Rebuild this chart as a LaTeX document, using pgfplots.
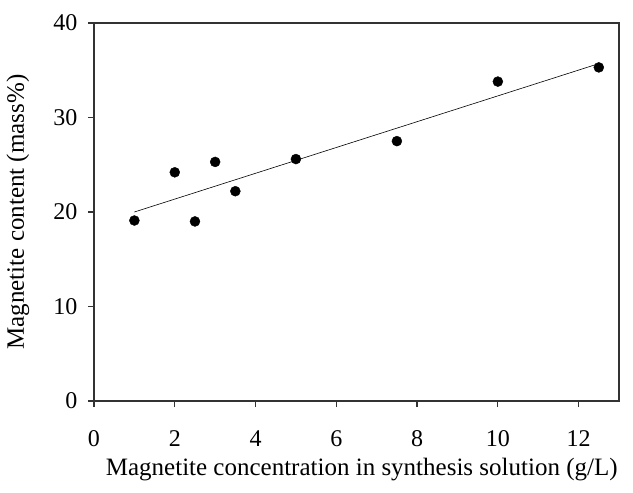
\documentclass[border=0pt]{standalone}
\usepackage{fontspec}
\setmainfont{Liberation Serif}
\usepackage{pgfplots}
\pgfplotsset{compat=1.18}
\begin{document}
\begin{tikzpicture}
\begin{axis}[
  name=ax,
  scale only axis,
  width=525pt, height=378pt,
  xmin=0, xmax=13, ymin=0, ymax=40,
  xtick={0,2,4,6,8,10,12},
  ytick={0,10,20,30,40},
  tick align=outside,
  tick pos=left,
  major tick length=6pt,
  axis line style={line width=1.2pt, black!80},
  every tick/.style={line width=1.2pt, black!80},
  /pgf/number format/assume math mode=true,
  tick label style={font=\fontsize{24}{27}\selectfont},
  xticklabel style={yshift=-20pt},
  yticklabel style={xshift=-7pt},
  label style={font=\fontsize{25}{29}\selectfont},
  xlabel={Magnetite concentration in synthesis solution (g/L)},
  ylabel={Magnetite content (mass\%)},
  xlabel style={at={(axis description cs:0.51,0)}, anchor=center, yshift=-69pt},
  ylabel style={at={(axis description cs:0,0.5)}, anchor=center, yshift=76pt},
]
\addplot[only marks, mark=*, mark size=5pt, black] coordinates {
  (1,19.1) (2,24.2) (2.5,19.0) (3,25.3) (3.5,22.2) (5,25.6) (7.5,27.5) (10,33.8) (12.5,35.3)
};
\addplot[black, line width=0.6pt] coordinates {(1,20.0) (12.5,35.7)};
\end{axis}
\pgfresetboundingbox
\useasboundingbox ([xshift=-94pt,yshift=-91pt]ax.south west) rectangle ([xshift=14pt,yshift=23pt]ax.north east);
\end{tikzpicture}
\end{document}
